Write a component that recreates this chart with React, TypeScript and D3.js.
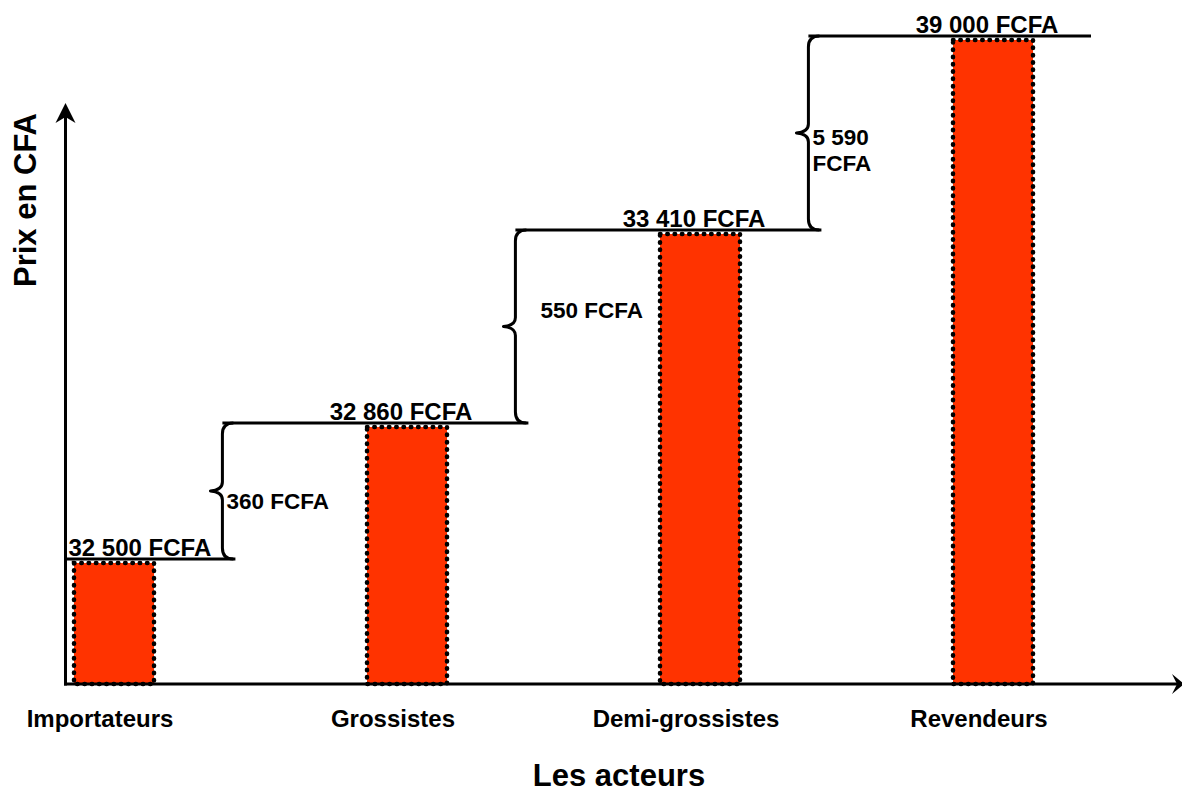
import React from "react";
import * as d3 from "d3";

// ---- data ----
const categories = ["Importateurs", "Grossistes", "Demi-grossistes", "Revendeurs"];
const prices = [32500, 32860, 33410, 39000];
const xAxisTitle = "Les acteurs";
const yAxisTitle = "Prix en CFA";
const currency = "FCFA";

// ---- layout / style ----
const W = 1182;
const H = 792;
const axisX = 65.5;
const baseY = 684;
const barW = 80;
const barColor = "#FF3300";
const font = "'Liberation Sans', Arial, Helvetica, sans-serif";
const diffLabelDx = [4, 25, 4];
const diffLabelDy = [18, -9, 12];

const fmt = d3.formatLocale({ decimal: ",", thousands: " ", grouping: [3], currency: ["", ""] }).format(",d");

export default function App() {
  const x = d3.scalePoint<string>().domain(categories).range([114, 993]);
  const step = x.step();
  // schematic (non proportional) price scale, piecewise linear
  const y = d3.scaleLinear().domain(prices).range([559, 423, 230, 36]);

  const braceX = categories.slice(0, -1).map((c) => (x(c) as number) + step * 0.37);

  const diffs = prices.slice(1).map((p, i) => p - prices[i]);
  const diffLines = diffs.map((d) => (d >= 1000 ? [fmt(d), currency] : [`${fmt(d)} ${currency}`]));

  const bracePath = (bx: number, yTop: number, yBot: number) => {
    const mid = (yTop + yBot) / 2;
    const r = 11;
    return [
      `M${bx + r},${yTop}`,
      `Q${bx},${yTop} ${bx},${yTop + r}`,
      `L${bx},${mid - 9}`,
      `Q${bx},${mid - 1} ${bx - 12},${mid}`,
      `Q${bx},${mid + 1} ${bx},${mid + 9}`,
      `L${bx},${yBot - r}`,
      `Q${bx},${yBot} ${bx + r},${yBot}`,
    ].join(" ");
  };

  return (
    <div style={{ position: "absolute", left: 0, top: 0 }}>
      <svg width={W} height={H} viewBox={`0 0 ${W} ${H}`} style={{ display: "block", background: "#fff" }}>
        {/* bars */}
        {categories.map((c, i) => {
          const cx = x(c) as number;
          const top = y(prices[i]) + 4;
          return (
            <rect
              key={c}
              x={cx - barW / 2}
              y={top}
              width={barW}
              height={baseY - top}
              fill={barColor}
              stroke="#000"
              strokeWidth={4.5}
              strokeDasharray="0.5 6.8"
              strokeLinecap="round"
            />
          );
        })}

        {/* axes */}
        <line x1={axisX} y1={106} x2={axisX} y2={baseY + 1.5} stroke="#000" strokeWidth={3} />
        <line x1={axisX - 1.5} y1={baseY} x2={1178} y2={baseY} stroke="#000" strokeWidth={3} />
        <path d={`M${axisX},103 L${axisX + 10},123 L${axisX},117 L${axisX - 10},123 Z`} fill="#000" />
        <path d={`M1184,${baseY} L1172,${baseY + 10} L1177,${baseY} L1172,${baseY - 10} Z`} fill="#000" />

        {/* level lines */}
        {categories.map((c, i) => {
          const yy = y(prices[i]);
          const x1 = i === 0 ? axisX - 1.5 : braceX[i - 1];
          const x2 = i < categories.length - 1 ? braceX[i] + 13 : (x(c) as number) + 98;
          return <line key={"l" + c} x1={x1} y1={yy} x2={x2} y2={yy} stroke="#000" strokeWidth={3} />;
        })}

        {/* braces */}
        {braceX.map((bx, i) => (
          <path
            key={"b" + i}
            d={bracePath(bx, y(prices[i + 1]), y(prices[i]))}
            fill="none"
            stroke="#000"
            strokeWidth={3}
            strokeLinejoin="round"
          />
        ))}

        {/* price labels */}
        {categories.map((c, i) => {
          const cx = x(c) as number;
          const label = `${fmt(prices[i])} ${currency}`;
          const first = cx - 72 < axisX;
          return (
            <text
              key={"p" + c}
              x={first ? axisX + 3 : cx - 6}
              y={y(prices[i]) - 3}
              textAnchor={first ? "start" : "middle"}
              fontFamily={font}
              fontWeight="bold"
              fontSize={24}
              fill="#000"
            >
              {label}
            </text>
          );
        })}

        {/* difference labels */}
        {diffLines.map((lines, i) => {
          const mid = (y(prices[i]) + y(prices[i + 1])) / 2;
          return (
            <text
              key={"d" + i}
              x={braceX[i] + diffLabelDx[i]}
              y={mid + diffLabelDy[i]}
              fontFamily={font}
              fontWeight="bold"
              fontSize={22.5}
              fill="#000"
            >
              {lines.map((t, k) => (
                <tspan key={k} x={braceX[i] + diffLabelDx[i]} dy={k === 0 ? 0 : 26}>
                  {t}
                </tspan>
              ))}
            </text>
          );
        })}

        {/* category labels */}
        {categories.map((c) => (
          <text
            key={"c" + c}
            x={(x(c) as number) - 14}
            y={727}
            textAnchor="middle"
            fontFamily={font}
            fontWeight="bold"
            fontSize={24}
            fill="#000"
          >
            {c}
          </text>
        ))}

        {/* axis titles */}
        <text x={619} y={786} textAnchor="middle" fontFamily={font} fontWeight="bold" fontSize={31} fill="#000">
          {xAxisTitle}
        </text>
        <text
          transform={`translate(36,200) rotate(-90)`}
          textAnchor="middle"
          fontFamily={font}
          fontWeight="bold"
          fontSize={31}
          fill="#000"
        >
          {yAxisTitle}
        </text>
      </svg>
    </div>
  );
}
